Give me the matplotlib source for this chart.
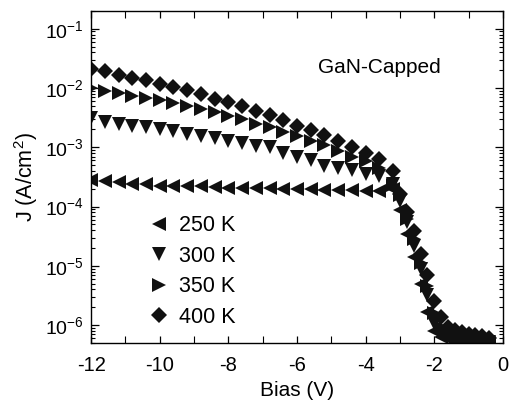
import matplotlib
matplotlib.use("Agg")
import matplotlib.pyplot as plt
from matplotlib.ticker import MultipleLocator, LogLocator, NullFormatter

plt.rcParams['font.family'] = ['Liberation Sans', 'DejaVu Sans']
plt.rcParams['mathtext.fontset'] = 'custom'
plt.rcParams['mathtext.rm'] = 'Liberation Sans'
plt.rcParams['axes.unicode_minus'] = False

# Bias (V)
bias = [-12.0, -11.6, -11.2, -10.8, -10.4, -10.0, -9.6, -9.2, -8.8, -8.4, -8.0,
        -7.6, -7.2, -6.8, -6.4, -6.0, -5.6, -5.2, -4.8, -4.4, -4.0, -3.6,
        -3.2, -3.0, -2.8, -2.6, -2.4, -2.2, -2.0, -1.8, -1.6, -1.4, -1.2,
        -1.0, -0.8, -0.6, -0.4]

# current density J (A/cm^2)
j_250 = [2.8e-4, 2.75e-4, 2.6e-4, 2.45e-4, 2.4e-4, 2.25e-4, 2.25e-4, 2.2e-4, 2.2e-4,
         2.15e-4, 2.1e-4, 2.1e-4, 2.1e-4, 2.05e-4, 2.0e-4, 1.95e-4, 1.95e-4, 1.9e-4,
         1.9e-4, 1.9e-4, 1.85e-4, 1.85e-4,
         2.0e-4, 8.9e-5, 3.5e-5, 1.4e-5, 5.0e-6, 1.66e-6, 7.9e-7, 6.3e-7, 5.8e-7,
         5.6e-7, 5.4e-7, 5.3e-7, 5.2e-7, 5.1e-7, 5.0e-7]
j_300 = [3.1e-3, 2.7e-3, 2.5e-3, 2.3e-3, 2.2e-3, 2.0e-3, 1.9e-3, 1.7e-3, 1.55e-3,
         1.45e-3, 1.3e-3, 1.2e-3, 1.05e-3, 1.0e-3, 8.1e-4, 6.9e-4, 6.2e-4, 4.9e-4,
         4.5e-4, 4.1e-4, 3.5e-4, 3.3e-4,
         2.4e-4, 1.26e-4, 5.6e-5, 2.2e-5, 8.9e-6, 3.2e-6, 1.1e-6, 7.6e-7, 6.6e-7,
         6.3e-7, 6.0e-7, 5.8e-7, 5.6e-7, 5.4e-7, 5.2e-7]
j_350 = [1.0e-2, 8.9e-3, 8.1e-3, 7.4e-3, 6.8e-3, 6.2e-3, 5.5e-3, 4.9e-3, 4.5e-3,
         3.9e-3, 3.4e-3, 3.0e-3, 2.5e-3, 2.2e-3, 1.8e-3, 1.55e-3, 1.3e-3, 1.1e-3,
         8.7e-4, 6.9e-4, 5.8e-4, 4.5e-4,
         2.3e-4, 1.6e-4, 6.3e-5, 2.8e-5, 1.1e-5, 4.5e-6, 1.6e-6, 9.5e-7, 7.9e-7,
         7.2e-7, 6.9e-7, 6.3e-7, 6.0e-7, 5.8e-7, 5.5e-7]
j_400 = [2.09e-2, 1.91e-2, 1.66e-2, 1.48e-2, 1.35e-2, 1.17e-2, 1.05e-2, 9.1e-3, 7.9e-3,
         6.6e-3, 5.9e-3, 5.0e-3, 4.1e-3, 3.5e-3, 2.9e-3, 2.3e-3, 1.95e-3, 1.6e-3,
         1.3e-3, 1.0e-3, 7.9e-4, 6.3e-4,
         4.0e-4, 1.66e-4, 8.1e-5, 3.9e-5, 1.6e-5, 6.9e-6, 2.6e-6, 1.35e-6, 9.5e-7,
         8.3e-7, 7.8e-7, 7.2e-7, 6.8e-7, 6.5e-7, 6.0e-7]

series = [("250 K", j_250, "<"), ("300 K", j_300, "v"),
          ("350 K", j_350, ">"), ("400 K", j_400, "D")]

fig = plt.figure(figsize=(5.09, 4.05), dpi=100)
ax = fig.add_axes([0.179, 0.153, 0.809, 0.820])

for label, j, m in series:
    ms = 8.5 if m == "D" else 10
    ax.plot(bias, j, linestyle="none", marker=m, color="#111111",
            markersize=ms, markeredgewidth=0, label=label)

ax.set_yscale("log")
ax.set_xlim(-12, 0)
ax.set_ylim(5e-7, 0.2)

ax.xaxis.set_major_locator(MultipleLocator(2))
ax.xaxis.set_minor_locator(MultipleLocator(1))
ax.yaxis.set_major_locator(LogLocator(base=10, numticks=20))
ax.yaxis.set_minor_locator(LogLocator(base=10, subs=range(2, 10), numticks=20))
ax.yaxis.set_minor_formatter(NullFormatter())

ax.tick_params(which="both", direction="in", top=True, right=True)
ax.tick_params(which="major", length=6, width=0.9)
ax.tick_params(which="minor", length=3, width=0.8)
ax.tick_params(axis="x", which="both", length=5)
ax.tick_params(axis="x", which="major", pad=9, labelsize=14.5)
ax.tick_params(axis="y", which="major", pad=5.5, labelsize=14)
for s in ax.spines.values():
    s.set_linewidth(1.0)

ax.set_xlabel("Bias (V)", fontsize=15, labelpad=5)
ax.set_ylabel("J (A/cm$^2$)", fontsize=15.5, labelpad=3)

ax.text(0.70, 0.83, "GaN-Capped", transform=ax.transAxes, fontsize=15,
        ha="center", va="center")

ax.legend(loc="upper left", bbox_to_anchor=(0.123, 0.41), frameon=False,
          numpoints=1, handlelength=0.8, handletextpad=0.55,
          labelspacing=0.44, fontsize=15.5, borderaxespad=0)

fig.savefig("out.png", dpi=100)
